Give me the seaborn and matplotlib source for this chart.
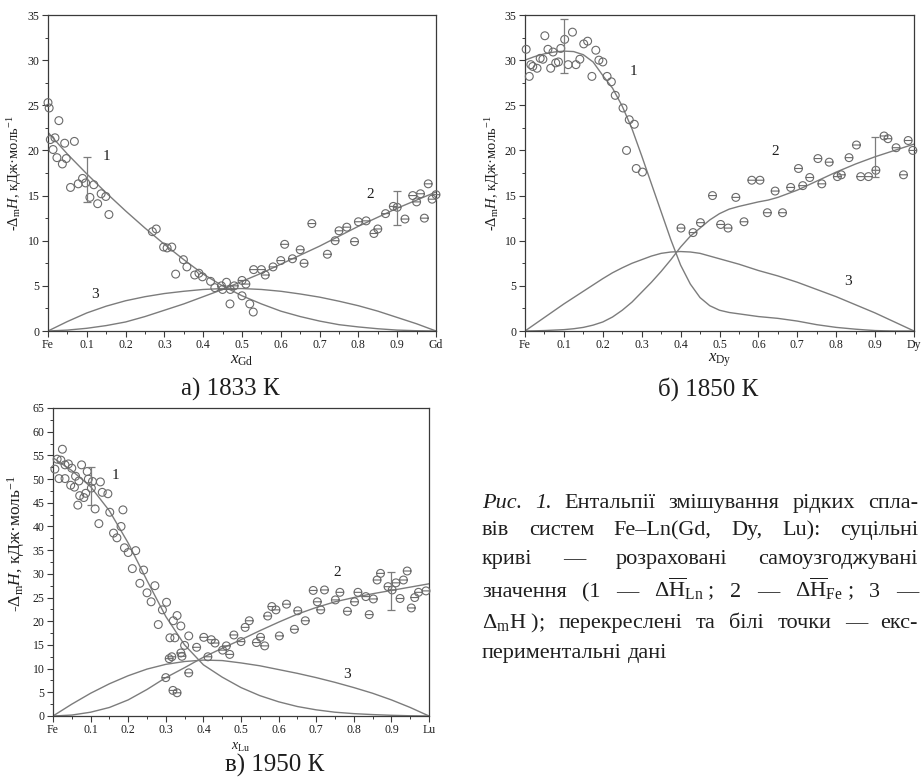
import numpy as np
import pandas as pd
import seaborn as sns
import matplotlib
matplotlib.use("Agg")
import matplotlib.pyplot as plt
from matplotlib.path import Path
from matplotlib.ticker import AutoMinorLocator

# ---------------- data ----------------
curve_x = [0.0, 0.05, 0.1, 0.15, 0.2, 0.25, 0.3, 0.35, 0.4, 0.45, 0.5,
           0.55, 0.6, 0.65, 0.7, 0.75, 0.8, 0.85, 0.9, 0.95, 1.0]
curve_x_fine = [0.0, 0.025, 0.05, 0.075, 0.1, 0.125, 0.15, 0.175, 0.2, 0.225,
                0.25, 0.275, 0.3, 0.325, 0.35, 0.375, 0.4, 0.425, 0.45, 0.475,
                0.5, 0.525, 0.55, 0.575, 0.6, 0.625, 0.65, 0.675, 0.7, 0.725,
                0.75, 0.775, 0.8, 0.825, 0.85, 0.875, 0.9, 0.925, 0.95, 0.975, 1.0]
x_tick_values = [0.0, 0.1, 0.2, 0.3, 0.4, 0.5, 0.6, 0.7, 0.8, 0.9, 1.0]
x_mid_labels = ["0.1", "0.2", "0.3", "0.4", "0.5", "0.6", "0.7", "0.8", "0.9"]

# (a) Fe-Gd, 1833 K
a_c1 = [22.0, 19.6, 17.4, 15.3, 13.3, 11.4, 9.6, 7.9, 6.3, 5.0, 3.9, 3.0, 2.2, 1.6, 1.1, 0.7, 0.45, 0.25, 0.1, 0.03, 0.0]
a_c2 = [0.0, 0.1, 0.3, 0.6, 1.0, 1.6, 2.3, 3.0, 3.8, 4.6, 5.5, 6.4, 7.4, 8.4, 9.4, 10.5, 11.6, 12.6, 13.6, 14.5, 15.4]
a_c3 = [0.0, 1.05, 2.0, 2.75, 3.35, 3.8, 4.15, 4.4, 4.6, 4.7, 4.7, 4.6, 4.4, 4.1, 3.75, 3.3, 2.8, 2.2, 1.5, 0.8, 0.0]
a_x1 = [0.0, 0.003, 0.006, 0.013, 0.018, 0.023, 0.028, 0.037, 0.043, 0.047,
        0.058, 0.068, 0.078, 0.089, 0.097, 0.108, 0.118, 0.128, 0.137, 0.149,
        0.157, 0.269, 0.279, 0.298, 0.307, 0.319, 0.329, 0.349, 0.358, 0.378,
        0.389, 0.398, 0.419, 0.430, 0.447, 0.460, 0.469, 0.500, 0.520, 0.529]
a_y1 = [25.3, 24.7, 21.2, 20.1, 21.4, 19.2, 23.3, 18.5, 20.8, 19.1,
        15.9, 21.0, 16.3, 16.9, 16.4, 14.8, 16.2, 14.1, 15.2, 14.9,
        12.9, 11.0, 11.3, 9.3, 9.2, 9.3, 6.3, 7.9, 7.1, 6.2,
        6.4, 6.0, 5.5, 4.8, 5.0, 5.4, 3.0, 3.9, 3.0, 2.1]
a_x2 = [0.45, 0.47, 0.48, 0.50, 0.51, 0.53, 0.55, 0.56, 0.58, 0.60,
        0.61, 0.63, 0.65, 0.66, 0.68, 0.72, 0.74, 0.75, 0.77, 0.79,
        0.80, 0.82, 0.84, 0.85, 0.87, 0.89, 0.90, 0.92, 0.94, 0.95,
        0.96, 0.97, 0.98, 0.99, 1.0]
a_y2 = [4.6, 4.6, 5.0, 5.6, 5.2, 6.8, 6.8, 6.2, 7.1, 7.8,
        9.6, 8.0, 9.0, 7.5, 11.9, 8.5, 10.0, 11.1, 11.5, 9.9,
        12.1, 12.2, 10.8, 11.3, 13.0, 13.8, 13.7, 12.4, 15.0, 14.3,
        15.2, 12.5, 16.3, 14.6, 15.1]
a_err_x = [0.1, 0.9]
a_err_y = [16.8, 13.6]
a_err = [2.5, 1.9]

# (b) Fe-Dy, 1850 K  (curves read on the finer grid)
b_c1 = [30.0, 30.4, 30.7, 30.9, 31.0, 30.95, 30.6, 29.8, 28.3, 26.9,
        24.9, 22.4, 19.4, 16.3, 13.2, 10.1, 7.3, 5.2, 3.7, 2.8,
        2.3, 2.05, 1.9, 1.75, 1.6, 1.5, 1.4, 1.25, 1.1, 0.9,
        0.7, 0.55, 0.4, 0.3, 0.2, 0.12, 0.05, 0.02, 0.0, 0.0, 0.0]
b_c2 = [0.0, 0.02, 0.05, 0.1, 0.15, 0.25, 0.4, 0.65, 1.0, 1.55,
        2.3, 3.2, 4.3, 5.4, 6.6, 7.9, 9.3, 10.5, 11.4, 12.3,
        13.0, 13.5, 13.8, 14.05, 14.3, 14.5, 14.8, 15.2, 15.6, 16.1,
        16.6, 17.1, 17.6, 18.05, 18.5, 18.9, 19.3, 19.65, 20.0, 20.35, 20.7]
b_c3 = [0.0, 0.75, 1.5, 2.25, 3.0, 3.7, 4.4, 5.1, 5.8, 6.45,
        7.0, 7.5, 7.9, 8.3, 8.6, 8.75, 8.8, 8.75, 8.6, 8.3,
        8.0, 7.7, 7.4, 7.05, 6.7, 6.4, 6.1, 5.75, 5.4, 5.0,
        4.6, 4.2, 3.8, 3.35, 2.9, 2.45, 2.0, 1.5, 1.0, 0.5, 0.0]
b_x1 = [0.003, 0.011, 0.015, 0.02, 0.031, 0.039, 0.046, 0.051, 0.059, 0.066,
        0.072, 0.079, 0.086, 0.092, 0.102, 0.111, 0.122, 0.131, 0.141, 0.151,
        0.161, 0.172, 0.182, 0.19, 0.2, 0.211, 0.222, 0.232, 0.252, 0.268,
        0.281, 0.261, 0.286, 0.302]
b_y1 = [31.2, 28.2, 29.5, 29.3, 29.1, 30.2, 30.1, 32.7, 31.2, 29.1,
        30.9, 29.7, 29.8, 31.3, 32.3, 29.5, 33.1, 29.5, 30.1, 31.8,
        32.1, 28.2, 31.1, 30.0, 29.8, 28.2, 27.6, 26.1, 24.7, 23.4,
        22.9, 20.0, 18.0, 17.6]
b_x2 = [0.401, 0.432, 0.451, 0.482, 0.503, 0.522, 0.542, 0.563, 0.583, 0.604,
        0.623, 0.643, 0.662, 0.683, 0.703, 0.714, 0.732, 0.753, 0.763, 0.782,
        0.803, 0.813, 0.833, 0.852, 0.863, 0.883, 0.902, 0.923, 0.933, 0.954,
        0.973, 0.985, 0.997]
b_y2 = [11.4, 10.9, 12.0, 15.0, 11.8, 11.4, 14.8, 12.1, 16.7, 16.7,
        13.1, 15.5, 13.1, 15.9, 18.0, 16.1, 17.0, 19.1, 16.3, 18.7,
        17.1, 17.3, 19.2, 20.6, 17.1, 17.1, 17.8, 21.6, 21.3, 20.3,
        17.3, 21.1, 20.0]
b_err_x = [0.1, 0.9]
b_err_y = [31.6, 19.3]
b_err = [3.0, 2.2]

# (c) Fe-Lu, 1950 K
c_c1 = [54.5, 51.8, 48.4, 43.3, 36.5, 28.6, 21.0, 15.0, 10.8, 8.2, 6.0, 4.3, 3.0, 2.0, 1.3, 0.8, 0.5, 0.3, 0.15, 0.05, 0.0]
c_c2 = [0.0, 0.2, 0.8, 1.8, 3.4, 5.6, 8.1, 10.2, 12.4, 14.3, 16.1, 18.0, 19.8, 21.5, 22.9, 24.1, 25.0, 25.8, 26.5, 27.2, 27.9]
c_c3 = [0.0, 2.5, 4.8, 6.8, 8.5, 9.9, 10.9, 11.5, 11.8, 11.7, 11.2, 10.6, 9.8, 9.0, 8.1, 7.1, 6.0, 4.8, 3.4, 1.8, 0.0]
c_x1 = [0.005, 0.011, 0.016, 0.021, 0.025, 0.032, 0.032, 0.041, 0.047, 0.05,
        0.057, 0.06, 0.066, 0.069, 0.071, 0.076, 0.082, 0.087, 0.091, 0.094,
        0.102, 0.105, 0.112, 0.122, 0.126, 0.131, 0.146, 0.151, 0.161, 0.17,
        0.181, 0.186, 0.19, 0.2, 0.211, 0.22, 0.231, 0.241, 0.25, 0.261,
        0.271, 0.28, 0.291, 0.302, 0.311, 0.32, 0.324, 0.33, 0.34, 0.35,
        0.361]
c_y1 = [52.1, 54.2, 50.1, 54.0, 56.3, 50.1, 53.0, 53.2, 48.7, 52.3,
        48.3, 50.6, 44.5, 49.6, 46.5, 53.0, 46.1, 47.0, 51.6, 50.0,
        48.1, 49.5, 43.7, 40.6, 49.4, 47.2, 46.9, 43.0, 38.6, 37.6,
        40.0, 43.5, 35.5, 34.5, 31.1, 34.9, 28.0, 30.8, 26.0, 24.1,
        27.5, 19.3, 22.4, 24.0, 16.5, 20.1, 16.5, 21.2, 19.0, 14.9,
        16.9]
c_x2 = [0.3, 0.309, 0.316, 0.319, 0.33, 0.34, 0.343, 0.361, 0.382, 0.401,
        0.412, 0.421, 0.431, 0.451, 0.461, 0.47, 0.481, 0.5, 0.511, 0.522,
        0.541, 0.552, 0.563, 0.571, 0.582, 0.593, 0.602, 0.621, 0.642, 0.651,
        0.671, 0.692, 0.703, 0.712, 0.722, 0.751, 0.763, 0.783, 0.802, 0.811,
        0.832, 0.841, 0.852, 0.862, 0.871, 0.891, 0.902, 0.912, 0.923, 0.932,
        0.942, 0.953, 0.962, 0.972, 0.992]
c_y2 = [8.1, 12.1, 12.5, 5.4, 4.9, 13.3, 12.6, 9.1, 14.5, 16.6,
        12.5, 16.1, 15.4, 13.9, 14.8, 13.0, 17.1, 15.7, 18.7, 20.1,
        15.5, 16.6, 14.8, 21.1, 23.1, 22.4, 16.9, 23.6, 18.3, 22.2,
        20.1, 26.5, 24.1, 22.4, 26.6, 24.5, 26.1, 22.1, 24.1, 26.1,
        25.2, 21.4, 24.7, 28.7, 30.1, 27.3, 26.6, 28.1, 24.8, 28.7,
        30.6, 22.8, 25.0, 26.1, 26.4]
c_err_x = [0.1, 0.9]
c_err_y = [48.6, 26.35]
c_err = [4.0, 3.95]

curve_names = ["1", "2", "3"]

# ---------------- style ----------------
sns.set_theme(style="ticks")
plt.rcParams['font.family'] = ['Liberation Serif', 'DejaVu Serif']
plt.rcParams['mathtext.fontset'] = 'custom'
plt.rcParams['mathtext.rm'] = 'Liberation Serif'
plt.rcParams['mathtext.it'] = 'Liberation Serif:italic'
plt.rcParams['mathtext.bf'] = 'Liberation Serif:bold'

LINE = '#7c7c7c'
MK = '#6a6a6a'
TXT = '#1e1e1e'
AX = '#3a3a3a'

W, H = 923, 782
fig = plt.figure(figsize=(W / 100, H / 100), dpi=100)
fig.patch.set_facecolor('white')


def box(l, t, r, b):
    return [l / W, 1 - b / H, (r - l) / W, (b - t) / H]


ominus = Path.make_compound_path(
    Path.unit_circle(),
    Path([[-1.0, 0.0], [1.0, 0.0]], [Path.MOVETO, Path.LINETO]))


def panel(rect, ymax, elem, cx, curves, pts1, pts2, err, label_pos,
          ylab_x, ylab_y, ylab_fs, xlab_y, xlab_fs):
    ax = fig.add_axes(rect)
    for cy in curves:
        sns.lineplot(x=cx, y=cy, ax=ax, color=LINE, lw=1.0,
                     estimator=None, sort=False, zorder=2)
    sns.scatterplot(x=pts1[0], y=pts1[1], ax=ax, marker='o', s=32,
                    color=MK, facecolor='none', edgecolor=MK,
                    linewidth=0.8, clip_on=False, zorder=3)
    sns.scatterplot(x=pts2[0], y=pts2[1], ax=ax, marker=ominus, s=32,
                    color=MK, facecolor='none', edgecolor=MK,
                    linewidth=0.8, clip_on=False, zorder=3)
    ax.errorbar(err[0], err[1], yerr=err[2], fmt='none', ecolor=LINE,
                elinewidth=0.9, capsize=3, capthick=0.9, zorder=4)
    for name, (lx, ly) in zip(curve_names, label_pos):
        ax.text(lx, ly, name, fontsize=11, color=TXT, ha='center', va='center')

    ax.set_xlim(0, 1)
    ax.set_ylim(0, ymax)
    ax.set_xticks(x_tick_values)
    ax.set_xticklabels(["Fe"] + x_mid_labels + [elem])
    ax.set_yticks(list(range(0, ymax + 1, 5)))
    ax.xaxis.set_minor_locator(AutoMinorLocator(2))
    ax.yaxis.set_minor_locator(AutoMinorLocator(2))
    ax.tick_params(which='major', direction='out', length=4, width=0.8,
                   labelsize=8.5, pad=2, color=AX, labelcolor=TXT)
    ax.tick_params(which='minor', direction='out', length=2.2, width=0.7, color=AX)
    ax.tick_params(top=False, right=False, which='both')
    for sp in ax.spines.values():
        sp.set_visible(True)
        sp.set_color(AX)
        sp.set_linewidth(0.9)
    ax.set_xlabel(r"$x_{\mathrm{%s}}$" % elem, fontsize=xlab_fs, color=TXT)
    ax.xaxis.set_label_coords(0.5, xlab_y)
    ax.set_ylabel(r"-$\Delta_{\mathrm{m}}H$, кДж·моль$^{-1}$",
                  fontsize=ylab_fs, color=TXT)
    ax.yaxis.set_label_coords(ylab_x, ylab_y)
    ax.set_facecolor('white')
    return ax


panel(box(48, 15, 436, 331), 35, "Gd", curve_x, [a_c1, a_c2, a_c3],
      (a_x1, a_y1), (a_x2, a_y2), (a_err_x, a_err_y, a_err),
      [(0.152, 19.3), (0.830, 15.1), (0.120, 4.0)],
      -0.062, 0.5, 10.5, -0.065, 12)
panel(box(525, 15, 914, 331), 35, "Dy", curve_x_fine, [b_c1, b_c2, b_c3],
      (b_x1, b_y1), (b_x2, b_y2), (b_err_x, b_err_y, b_err),
      [(0.278, 28.7), (0.642, 19.9), (0.831, 5.5)],
      -0.059, 0.5, 10.5, -0.065, 12)
panel(box(53, 408, 429, 716), 65, "Lu", curve_x, [c_c1, c_c2, c_c3],
      (c_x1, c_y1), (c_x2, c_y2), (c_err_x, c_err_y, c_err),
      [(0.167, 50.7), (0.756, 30.3), (0.783, 8.8)],
      -0.068, 0.56, 12.5, -0.08, 10)

# panel captions
fig.text(230 / W, 1 - 389 / H, "а) 1833 К", fontsize=18, color=TXT, ha='center', va='center')
fig.text(708 / W, 1 - 389 / H, "б) 1850 К", fontsize=18, color=TXT, ha='center', va='center')
fig.text(275 / W, 1 - 765 / H, "в) 1950 К", fontsize=18, color=TXT, ha='center', va='center')

# figure caption (justified)
renderer = fig.canvas.get_renderer()
FS = 16
X0, X1 = 482, 918


def line(words, ybase, justify=True):
    objs = []
    for w in words:
        if isinstance(w, tuple):
            s, st = w
        else:
            s, st = w, 'normal'
        t = fig.text(X0 / W, 1 - ybase / H, s, fontsize=FS, style=st,
                     color=TXT, ha='left', va='baseline')
        objs.append(t)
    widths = [t.get_window_extent(renderer).width for t in objs]
    if justify and len(objs) > 1:
        gap = (X1 - X0 - sum(widths)) / (len(objs) - 1)
    else:
        gap = FS * 100 / 72 * 0.25
    x = X0
    for t, wd in zip(objs, widths):
        t.set_x(x / W)
        x += wd + gap


line([("Рис.", 'italic'), ("1.", 'italic'), "Ентальпії", "змішування", "рідких", "спла-"], 508)
line(["вів", "систем", "Fe–Ln(Gd,", "Dy,", "Lu):", "суцільні"], 535)
line(["криві", "—", "розраховані", "самоузгоджувані"], 564)
line(["значення", "(1", "—", r"$\Delta\overline{\mathrm{H}}_{\mathrm{Ln}}$ ;", "2", "—",
      r"$\Delta\overline{\mathrm{H}}_{\mathrm{Fe}}$ ;", "3", "—"], 597)
line([r"$\Delta_{\mathrm{m}}\mathrm{H}$ );", "перекреслені", "та", "білі", "точки", "—", "екс-"], 628)
line(["периментальні", "дані"], 658, justify=False)

fig.savefig("out.png", dpi=100)
